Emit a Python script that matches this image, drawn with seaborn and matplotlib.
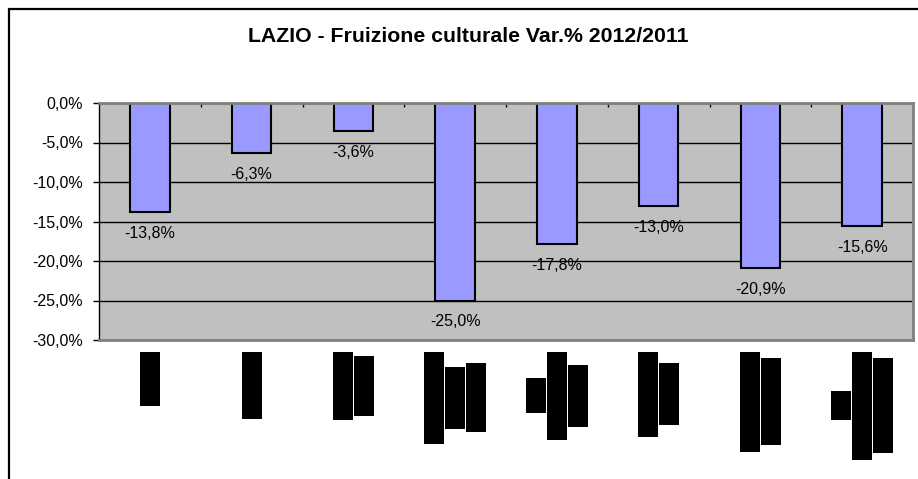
import matplotlib
matplotlib.use("Agg")
import matplotlib.pyplot as plt
import seaborn as sns
import pandas as pd
from matplotlib.ticker import FuncFormatter
from matplotlib.patches import Rectangle

# === Dati ===
categorie = [
    "Teatro",
    "Cinema",
    "Musei e\nmostre",
    "Concerti di\nmusica\nclassica",
    "Altri\nconcerti di\nmusica",
    "Spettacoli\nsportivi",
    "Discoteche,\nballo, ecc.",
    "Siti\narcheologici,\nmonumenti",
]
var_perc = [-13.8, -6.3, -3.6, -25.0, -17.8, -13.0, -20.9, -15.6]
y_ticks = [0, -5, -10, -15, -20, -25, -30]

titolo = "LAZIO - Fruizione culturale Var.% 2012/2011"


def fmt_it(v, pos=None):
    return f"{v:.1f}%".replace(".", ",")


plt.rcParams["font.family"] = ["Liberation Sans", "DejaVu Sans"]

W, H = 918, 479
fig = plt.figure(figsize=(W / 100, H / 100), dpi=100)
fig.patch.set_facecolor("white")

# cornice esterna (tagliata a destra e in basso)
fig.patches.append(Rectangle((8.5 / W, -0.2), 1.5, (H - 9) / H + 0.2,
                             transform=fig.transFigure, fill=False,
                             edgecolor="black", linewidth=1.6))

fig.text(468 / W, (H - 37) / H, titolo, ha="center", va="center",
         fontsize=15.3, fontweight="bold")

ax = fig.add_axes([99 / W, (H - 340) / H, 814 / W, 237 / H])
df = pd.DataFrame({"categoria": categorie, "var": var_perc})
sns.barplot(data=df, x="categoria", y="var", color="#9999FF", saturation=1,
            width=0.39, edgecolor="black", linewidth=1.5, errorbar=None, ax=ax)

ax.set_facecolor("#C0C0C0")
ax.set_xlim(-0.5, len(categorie) - 0.5)
ax.set_ylim(min(y_ticks), max(y_ticks))
ax.set_yticks(y_ticks)
ax.yaxis.set_major_formatter(FuncFormatter(fmt_it))
ax.set_axisbelow(True)
ax.yaxis.grid(True, color="black", linewidth=1)
ax.set_xlabel("")
ax.set_ylabel("")

# tacche tra le categorie, sull'asse in alto (0%)
ax.set_xticks([i + 0.5 for i in range(len(categorie) - 1)], labels=[])
ax.tick_params(axis="x", top=True, bottom=False, direction="in", length=3,
               width=1, color="black", labeltop=False, labelbottom=False)
ax.tick_params(axis="y", direction="out", length=4.5, width=1, pad=7,
               labelsize=11.5)

ax.spines["left"].set_color("black")
ax.spines["left"].set_linewidth(1)
for s in ["top", "right", "bottom"]:
    ax.spines[s].set_color("#808080")
    ax.spines[s].set_linewidth(2)

for c in ax.containers:
    ax.bar_label(c, labels=[fmt_it(v) for v in var_perc], padding=10,
                 fontsize=11.5)

# etichette di categoria oscurate (riquadri neri per riga)
fig.canvas.draw()
renderer = fig.canvas.get_renderer()
top_px = H - 351
pitch = 21
for i, lab in enumerate(categorie):
    righe = lab.split("\n")
    xc = ax.transData.transform((i, 0))[0]
    testi = []
    for j, riga in enumerate(righe):
        t = fig.text((xc + (j - (len(righe) - 1) / 2) * pitch) / W, 0.5, riga,
                     rotation=90, ha="center", va="center", fontsize=13.5,
                     color="black",
                     bbox=dict(boxstyle="square,pad=0.08", fc="black",
                               ec="none"))
        testi.append(t)
    lung = [t.get_window_extent(renderer).height for t in testi]
    yc = top_px - max(lung) / 2 - 2
    for t in testi:
        t.set_y(yc / H)

fig.savefig("out.png", dpi=100)
plt.close(fig)
